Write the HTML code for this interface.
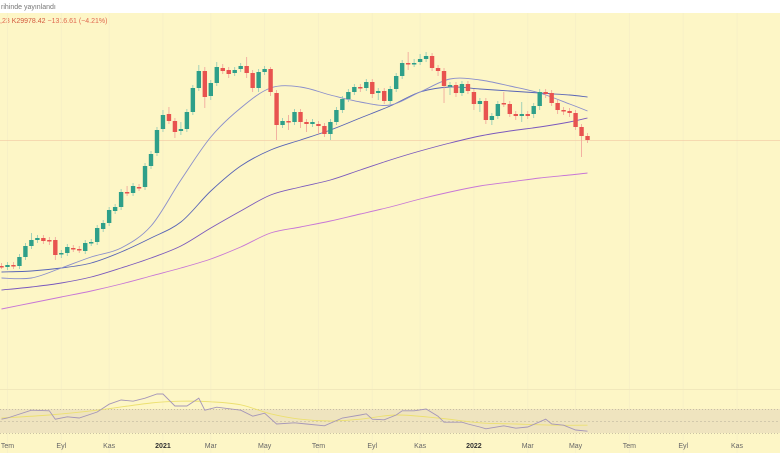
<!DOCTYPE html>
<html><head><meta charset="utf-8"><style>
body{margin:0;background:#fff;width:780px;height:470px;overflow:hidden;font-family:"Liberation Sans",sans-serif}
svg{display:block}
</style></head><body>
<svg id="chart" width="780" height="470" viewBox="0 0 780 470" xmlns="http://www.w3.org/2000/svg">
<rect x="0" y="0" width="780" height="13" fill="#ffffff"/>
<rect x="0" y="13" width="780" height="440" fill="#fdf6c6"/>
<text x="1" y="9" font-size="7" fill="#777">rihinde yayınlandı</text>
<text x="0" y="23" font-size="7" fill="#e0684f">,23 <tspan fill="#d35a3f">K29978.42</tspan> −1316.61 (−4.21%)</text>
<g id="grid"></g>
<line x1="0" y1="140.5" x2="780" y2="140.5" stroke="#f3cfa9" stroke-width="0.8"/>
<line x1="0" y1="389.5" x2="780" y2="389.5" stroke="#f1e8bb" stroke-width="1"/>
<rect x="0" y="409" width="780" height="24" fill="#efe4bf"/>
<line x1="0" y1="409.5" x2="780" y2="409.5" stroke="#bbb29a" stroke-width="0.7" stroke-dasharray="1,2"/>
<line x1="0" y1="421.5" x2="780" y2="421.5" stroke="#c9c0a6" stroke-width="0.7" stroke-dasharray="2,2"/>
<line x1="0" y1="433.5" x2="780" y2="433.5" stroke="#bbb29a" stroke-width="0.7" stroke-dasharray="1,2"/>
<g id="mas"></g>
<g id="candles"></g>
<g id="rsi"></g>
<g id="xaxis"></g>
</svg>
<script>
const opens=[134,133,135,134,143,154,160,162,160,160,146,147,152,151,149,157,158,171,177,189,193,208,207,213,213,234,247,271,286,279,269,271,288,312,329,304,317,332,330,327,331,334,327,312,328,331,307,275,279,278,288,278,276,276,274,266,278,290,301,308,313,312,318,307,309,299,311,324,337,336,338,341,344,332,329,314,315,307,316,308,296,299,280,284,297,296,286,284,286,286,294,308,307,297,290,289,287,273,264];
const closes=[133,135,134,143,154,160,162,159,159,145,147,153,151,150,157,158,172,177,190,193,208,207,214,212,234,246,270,285,279,268,271,288,312,329,303,317,333,329,326,330,334,327,312,328,331,308,275,279,278,288,278,276,278,274,266,278,290,301,308,313,312,318,306,309,299,311,324,337,336,337,341,344,332,329,314,315,307,316,309,296,299,280,284,296,296,286,284,286,284,294,308,306,297,290,289,287,273,264,260];
const highs=[137,138,138,146,157,167,165,165,163,163,150,156,155,154,160,161,175,180,193,196,211,214,217,216,237,249,273,290,293,282,278,291,315,335,333,320,338,336,333,333,337,343,330,331,334,333,310,282,285,291,291,281,281,279,277,281,293,304,311,316,316,321,321,312,312,314,327,340,348,341,346,348,347,335,332,318,318,319,319,311,302,302,287,299,308,299,289,298,289,297,311,311,310,300,293,292,290,276,267];
const lows=[131,130,131,131,140,151,157,156,155,140,142,144,148,147,146,154,155,168,174,186,190,204,204,209,210,231,244,268,276,262,265,268,285,309,292,300,314,326,322,324,328,322,308,308,325,304,260,272,270,275,272,268,273,266,263,260,275,287,298,305,308,309,302,300,296,296,308,321,330,333,335,338,329,324,297,305,303,304,306,290,288,276,275,281,293,283,280,278,281,282,290,302,294,286,285,283,270,243,257];
const maIdx=[0,5,10,15,20,25,30,35,40,45,50,55,60,65,70,75,80,85,90,95,98];
const ma20=[122,122,132,143,152,174,220,263,292,312,313,305,298,295,308,321,320,314,307,296,289];
const ma50=[128,129,132,137,148,162,178,209,234,250,260,270,282,294,308,313,311,309,307,305,303];
const ma100=[110,113,117,123,132,142,154,172,189,205,213,220,230,240,249,257,264,269,273,278,282];
const ma200=[91,97,103,109,116,124,132,141,153,167,173,179,186,193,201,208,214,218,222,225,227];
const rsiIdx=[0,1,5,8,9,11,13,16,18,20,22,24,26,27,29,31,33,34,36,40,42,44,46,49,51,54,57,60,61,62,64,66,67,69,71,73,74,77,78,80,81,84,86,88,91,92,94,96,98];
const rsiVals=[53,55,68,67,53,57,55,65,78,85,83,88,95,95,75,75,88,68,73,68,58,63,45,47,45,42,55,60,62,53,52,60,67,67,70,58,48,48,45,40,37,42,38,40,53,45,43,35,33];
const rsiMaIdx=[0,8,16,25,30,35,40,45,50,55,60,66,73,80,86,93,98];
const rsiMaVals=[55,60,68,80,83,82,77,62,53,50,53,60,55,47,45,43,43];
const xLabels=["Tem","Eyl","Kas","2021","Mar","May","Tem","Eyl","Kas","2022","Mar","May","Tem","Eyl","Kas"];
const xLabelIdx=[1,10,18,27,35,44,53,62,70,79,88,96,105,114,123];

const NS="http://www.w3.org/2000/svg";
function xS(i){return 1.5+i*5.98;}
function yS(p){return 400-p;}
function rS(v){return 421-(v-50)*0.6;}
function mk(tag,attrs,parent){const e=document.createElementNS(NS,tag);for(const k in attrs)e.setAttribute(k,attrs[k]);parent.appendChild(e);return e;}

const grid=document.getElementById('grid');
const xa=document.getElementById('xaxis');
xLabels.forEach((t,k)=>{
  const x=xS(xLabelIdx[k]);
  const l=mk('line',{x1:x,y1:13,x2:x,y2:453,stroke:'#f7f0c6','stroke-width':1},grid);
  
  
  const tx=mk('text',{x:x,y:448,'font-size':7,'text-anchor':'middle',fill:(t.length===4?'#333':'#666'),'font-weight':(t.length===4?'bold':'normal')},xa);
  tx.textContent=t;
  
  
});

function smoothPath(pts){
  let d='M'+pts[0][0].toFixed(1)+','+pts[0][1].toFixed(1);
  for(let k=0;k<pts.length-1;k++){
    const p0=pts[k-1]||pts[k],p1=pts[k],p2=pts[k+1],p3=pts[k+2]||p2;
    const c1x=p1[0]+(p2[0]-p0[0])/6,c1y=p1[1]+(p2[1]-p0[1])/6;
    const c2x=p2[0]-(p3[0]-p1[0])/6,c2y=p2[1]-(p3[1]-p1[1])/6;
    d+=' C'+c1x.toFixed(1)+','+c1y.toFixed(1)+' '+c2x.toFixed(1)+','+c2y.toFixed(1)+' '+p2[0].toFixed(1)+','+p2[1].toFixed(1);
  }
  return d;
}
const mg=document.getElementById('mas');
function curve(idx,vals,color,name,g,sc){
  const pts=idx.map((i,k)=>[xS(i),sc(vals[k])]);
  const p=mk('path',{d:smoothPath(pts),fill:'none',stroke:color,'stroke-width':0.9},g);
  
  
}
function line(idx,vals,color,name,g,sc){
  const pts=idx.map((i,k)=>xS(i).toFixed(1)+','+sc(vals[k]).toFixed(1)).join(' ');
  const p=mk('polyline',{points:pts,fill:'none',stroke:color,'stroke-width':0.9},g);
  
  
}
curve(maIdx,ma200,'#c776d6','ma-200-line',mg,yS);
curve(maIdx,ma100,'#7a58bd','ma-100-line',mg,yS);
curve(maIdx,ma50,'#5864b6','ma-50-line',mg,yS);
curve(maIdx,ma20,'#8a8ecb','ma-20-line',mg,yS);

const cg=document.getElementById('candles');
const n=Math.min(opens.length,closes.length,highs.length,lows.length);
for(let i=0;i<n;i++){
  const up=closes[i]>=opens[i];
  const col=up?'#2e9f89':'#e8534f';
  const wcol=up?'#8cc8b4':'#f0a098';
  const x=xS(i);
  const w=mk('line',{x1:x,x2:x,y1:yS(highs[i]),y2:yS(lows[i]),stroke:wcol,'stroke-width':0.8},cg);
  
  
  const top=yS(Math.max(opens[i],closes[i]));
  const h=Math.max(1.5,Math.abs(opens[i]-closes[i]));
  const b=mk('rect',{x:x-2.2,y:top,width:4.4,height:h,fill:col},cg);
  
  
}

const rg=document.getElementById('rsi');
curve(rsiMaIdx,rsiMaVals,'#ece070','rsi-ma-line',rg,rS);
line(rsiIdx,rsiVals,'#a596b8','rsi-line',rg,rS);
</script>
</body></html>
